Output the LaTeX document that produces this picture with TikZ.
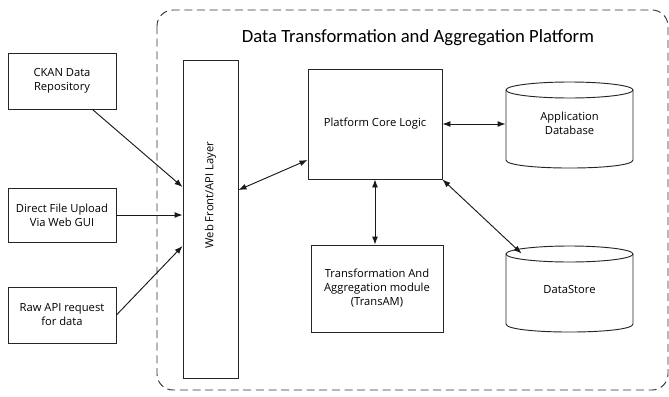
\documentclass[tikz,border=0pt]{standalone}
\usepackage{fontspec}
\setmainfont{Open Sans}
\newfontfamily\titlefont{Carlito}
\usetikzlibrary{arrows.meta,calc}
\begin{document}
\begin{tikzpicture}[x=0.75pt,y=-0.75pt,
  line width=0.7pt,
  lbl/.style={font=\fontsize{8.4}{10.5}\selectfont, align=center},
  box/.style={draw=black!85, fill=white, inner sep=0pt, lbl},
  conn/.style={draw=black!90, -{Latex[length=6pt,width=4.5pt]}},
  dconn/.style={draw=black!90, {Latex[length=6pt,width=4.5pt]}-{Latex[length=6pt,width=4.5pt]}},
  cyl/.style={draw=black!85, line width=0.7pt}
]
\useasboundingbox (0,0) rectangle (669,397);
% platform boundary
\draw[black!80, dash pattern=on 6pt off 3.5pt, rounded corners=12pt] (157,10) rectangle (668,390);
\node[font=\titlefont\fontsize{14}{16}\selectfont] (title) at (418,38) {Data Transformation and Aggregation Platform};

% left sources
\node[box, minimum width=81pt, minimum height=42pt] (ckan) at (62,81) {CKAN Data\\Repository};
\node[box, minimum width=81pt, minimum height=40.5pt] (direct) at (62,215) {Direct File Upload\\Via Web GUI};
\node[box, minimum width=81pt, minimum height=42pt] (raw) at (62,315) {Raw API request\\for data};

% web front
\node[box, minimum width=41.25pt, minimum height=238.5pt] (web) at (210.5,219) {};
\node[lbl, rotate=90] (weblabel) at (210.5,195) {Web Front/API Layer};

% core
\node[box, minimum width=100.5pt, minimum height=82.5pt] (core) at (375,124) {Platform Core Logic};
% transam
\node[box, minimum width=99pt, minimum height=65.25pt] (trans) at (377,288.5) {Transformation And\\Aggregation module\\(TransAM)};

% application database cylinder
\node[inner sep=0pt, minimum width=95.25pt, minimum height=64.5pt] (db) at (569.5,125) {};
\draw[cyl] (506,90) -- (506,160) .. controls (506,170.7) and (633,170.7) .. (633,160) -- (633,90);
\draw[cyl] (569.5,90) ellipse [x radius=63.5, y radius=8];
\node[lbl] (dblabel) at (569.5,123) {Application\\Database};

% datastore cylinder
\node[inner sep=0pt, minimum width=95.25pt, minimum height=64.5pt] (ds) at (569.5,289) {};
\draw[cyl] (506,254) -- (506,324) .. controls (506,334.7) and (633,334.7) .. (633,324) -- (633,254);
\draw[cyl] (569.5,254) ellipse [x radius=63.5, y radius=8];
\node[lbl] (dslabel) at (569.5,289) {DataStore};

% connectors
\draw[conn] ([xshift=-18pt]ckan.south east) -- ([yshift=24pt]web.west);
\draw[conn] (direct.east) -- (direct.east -| web.west);
\draw[conn] (raw.east) -- ([yshift=-20.25pt]web.west);
\draw[dconn] ([yshift=21.75pt]web.east) -- ([yshift=-27pt]core.west);
\draw[dconn] (core.east) -- (core.east -| db.west);
\draw[dconn] (core.south) -- (core.south |- trans.north);
\draw[dconn] (core.south east) -- ([xshift=12pt,yshift=-6pt]ds.north west);
\end{tikzpicture}
\end{document}
